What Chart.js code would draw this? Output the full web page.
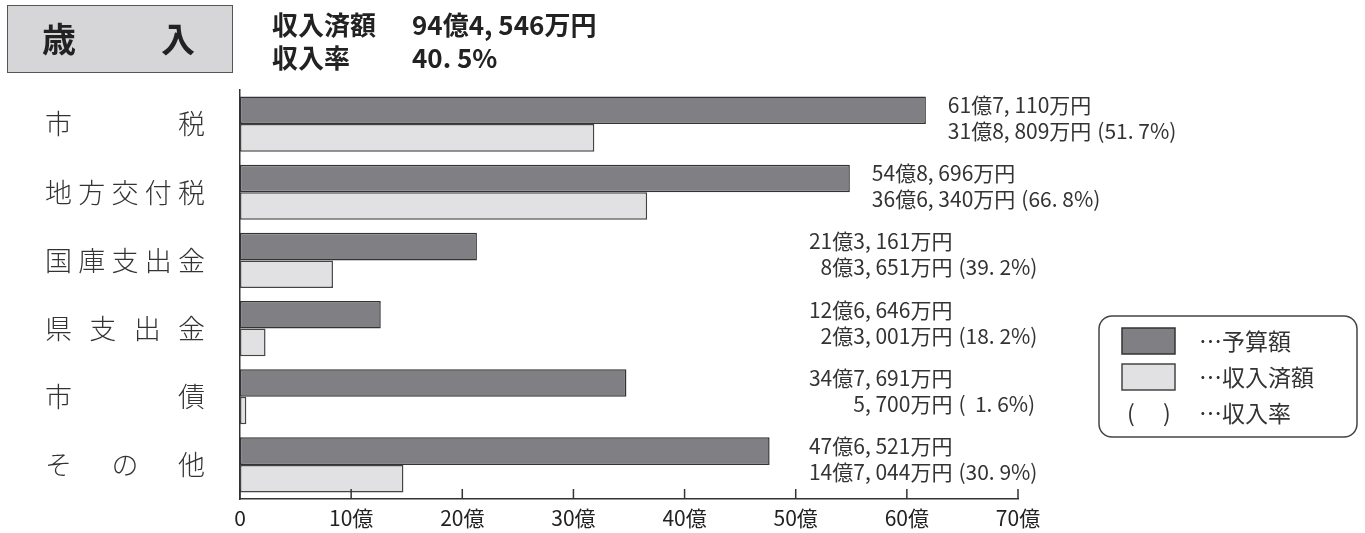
<!DOCTYPE html>
<html>
<head>
    <meta charset="utf-8">
    <title>歳入</title>
    <script src="https://cdn.jsdelivr.net/npm/chart.js"></script>
    <style>
        body { margin: 0; background: #fff; font-family: "Noto Sans CJK JP", sans-serif; color: #222; }
        #wrap { position: absolute; left: 0; top: 0; width: 1365px; height: 533px; }
        .t { position: absolute; white-space: nowrap; font-weight: bold; font-size: 26px; line-height: 26px; }
    </style>
</head>
<body>
<div id="wrap">
    <canvas id="chart" width="1365" height="533"></canvas>
    <!-- 見出し -->
    <div style="position:absolute;left:7px;top:5px;width:226px;height:68px;background:#d6d6d8;border:1.5px solid #555;box-sizing:border-box;">
        <span class="t" style="left:34px;top:14px;font-size:34px;line-height:36px;">歳</span>
        <span class="t" style="left:153px;top:14px;font-size:34px;line-height:36px;">入</span>
    </div>
    <span class="t" style="left:272px;top:11px;">収入済額</span>
    <span class="t" style="left:412px;top:11px;">94億4, 546万円</span>
    <span class="t" style="left:272px;top:44px;">収入率</span>
    <span class="t" style="left:412px;top:44px;">40. 5%</span>
</div>

<script>
    // データ (単位: 億円)
    const categories = ['市税', '地方交付税', '国庫支出金', '県支出金', '市債', 'その他'];
    const budget   = [61.711, 54.8696, 21.3161, 12.6646, 34.7691, 47.6521];
    const received = [31.8809, 36.634, 8.3651, 2.3001, 0.57, 14.7044];
    const budgetText   = ['61億7, 110万円', '54億8, 696万円', '21億3, 161万円', '12億6, 646万円', '34億7, 691万円', '47億6, 521万円'];
    const receivedText = ['31億8, 809万円', '36億6, 340万円', '8億3, 651万円', '2億3, 001万円', '5, 700万円', '14億7, 044万円'];
    const rateText     = ['(51. 7%)', '(66. 8%)', '(39. 2%)', '(18. 2%)', '(  1. 6%)', '(30. 9%)'];
    const legendText   = ['…予算額', '…収入済額', '…収入率'];

    const FONT = '"Noto Sans CJK JP", sans-serif';

    // 目盛・カテゴリ名・数値・凡例を描くプラグイン
    const decor = {
        id: 'decor',
        afterDatasetsDraw(chart) {
            const ctx = chart.ctx;
            const xs = chart.scales.x, ys = chart.scales.y;
            const area = chart.chartArea;
            ctx.save();

            // 内向きの目盛線
            ctx.strokeStyle = '#333';
            ctx.lineWidth = 1.5;
            xs.ticks.forEach((t, i) => {
                const x = xs.getPixelForTick(i);
                ctx.beginPath();
                ctx.moveTo(x, area.bottom - 10);
                ctx.lineTo(x, area.bottom);
                ctx.stroke();
            });

            // カテゴリ名 (均等割付)
            ctx.fillStyle = '#333';
            ctx.font = '300 27px ' + FONT;
            ctx.textBaseline = 'middle';
            ctx.textAlign = 'left';
            const lx0 = area.left - 195, lx1 = area.left - 35;
            categories.forEach((c, i) => {
                const y = ys.getPixelForValue(i);
                const chars = Array.from(c);
                const w = chars.map(ch => ctx.measureText(ch).width);
                const total = w.reduce((a, b) => a + b, 0);
                const gap = chars.length > 1 ? (lx1 - lx0 - total) / (chars.length - 1) : 0;
                let x = lx0;
                chars.forEach((ch, k) => {
                    ctx.fillText(ch, x, y);
                    x += w[k] + gap;
                });
            });

            // 金額ラベル
            ctx.font = '21px ' + FONT;
            ctx.fillStyle = '#333';
            const minRight = xs.getPixelForValue(64.1);
            categories.forEach((c, i) => {
                const y = ys.getPixelForValue(i);
                const w1 = ctx.measureText(budgetText[i]).width;
                const right = Math.max(xs.getPixelForValue(budget[i]) + 22 + w1, minRight);
                ctx.textAlign = 'right';
                ctx.fillText(budgetText[i], right, y - 19);
                ctx.fillText(receivedText[i], right, y + 7);
                ctx.textAlign = 'left';
                ctx.fillText(rateText[i], right + 6, y + 7);
            });

            // 凡例
            const bx = 1099, by = 316, bw = 258, bh = 121;
            ctx.strokeStyle = '#444';
            ctx.lineWidth = 1.5;
            ctx.beginPath();
            ctx.roundRect(bx, by, bw, bh, 13);
            ctx.stroke();
            const ds = chart.data.datasets;
            [0, 1].forEach(k => {
                const sy = by + 12 + k * 36;
                ctx.fillStyle = ds[k].backgroundColor;
                ctx.fillRect(bx + 23, sy, 53, 26);
                ctx.strokeStyle = ds[k].borderColor;
                ctx.strokeRect(bx + 23, sy, 53, 26);
            });
            ctx.fillStyle = '#333';
            ctx.font = '23px ' + FONT;
            ctx.textAlign = 'left';
            ctx.fillText('(', bx + 28, by + 97);
            ctx.fillText(')', bx + 64, by + 97);
            legendText.forEach((s, k) => {
                ctx.fillText(s, bx + 100, by + 25 + k * 36);
            });

            ctx.restore();
        }
    };

    new Chart(document.getElementById('chart'), {
        type: 'bar',
        data: {
            labels: categories,
            datasets: [
                {
                    label: '予算額',
                    data: budget,
                    backgroundColor: '#808084',
                    borderColor: '#333',
                    borderWidth: 1.5,
                    borderSkipped: false
                },
                {
                    label: '収入済額',
                    data: received,
                    backgroundColor: '#e1e1e3',
                    borderColor: '#444',
                    borderWidth: 1.5,
                    borderSkipped: false
                }
            ]
        },
        options: {
            indexAxis: 'y',
            responsive: false,
            animation: false,
            barPercentage: 1.0,
            categoryPercentage: 0.81,
            layout: { padding: { top: 90, right: 347, left: 0, bottom: 0 } },
            plugins: {
                legend: { display: false },
                tooltip: { enabled: false }
            },
            scales: {
                x: {
                    min: 0,
                    max: 70,
                    grid: { display: false, drawTicks: false },
                    border: { display: true, color: '#333', width: 1.5 },
                    ticks: {
                        stepSize: 10,
                        padding: 6,
                        color: '#222',
                        font: { family: FONT, size: 21 },
                        callback: v => v === 0 ? '0' : v + '億'
                    },
                    afterFit: s => { s.height = 34; }
                },
                y: {
                    grid: { display: false, drawTicks: false },
                    border: { display: true, color: '#333', width: 1.5 },
                    ticks: { display: false },
                    afterFit: s => { s.width = 240; }
                }
            }
        },
        plugins: [decor]
    });
</script>
</body>
</html>
